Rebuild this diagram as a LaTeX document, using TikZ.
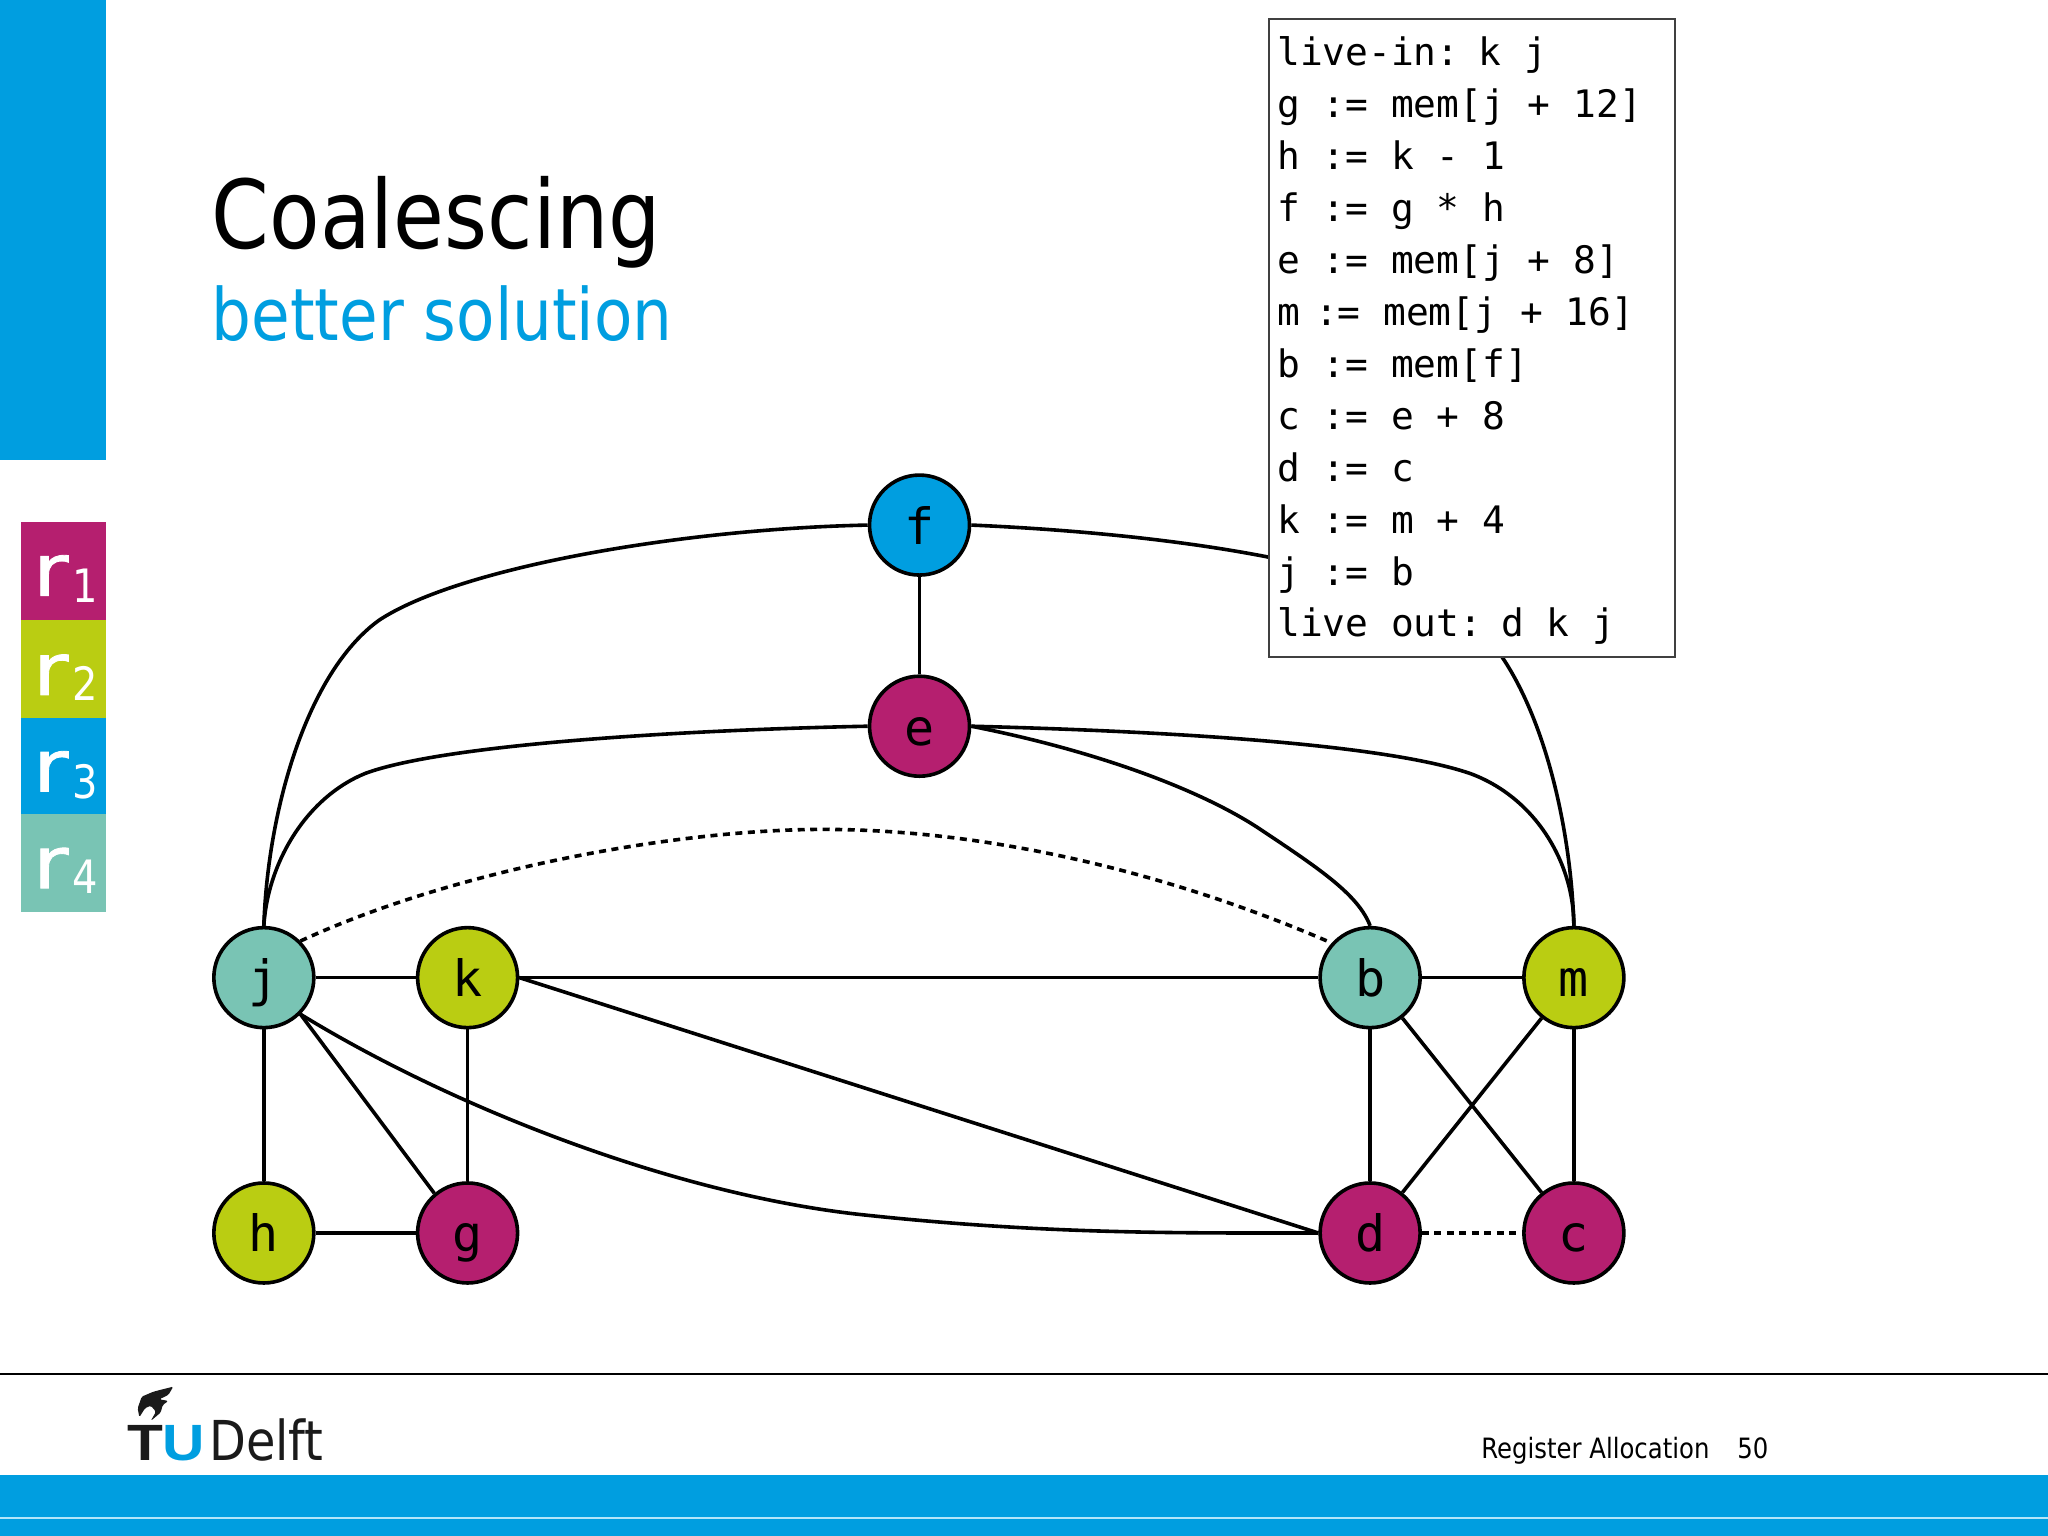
\documentclass[tikz,border=0pt]{standalone}
\usepackage{fontspec}
\setmainfont{DejaVu Sans}
\setmonofont{DejaVu Sans Mono}
\newfontfamily\tah[FakeStretch=0.87]{DejaVu Sans}
\newfontfamily\tahb[FakeStretch=1.2,FakeBold=1.2]{DejaVu Sans}
\newfontfamily\armb[FakeStretch=1.15]{Liberation Sans Bold}
\definecolor{tublue}{HTML}{009EE0}
\definecolor{rone}{HTML}{B51F6F}
\definecolor{rtwo}{HTML}{BACD12}
\definecolor{rfour}{HTML}{79C4B4}
\definecolor{tuink}{HTML}{1A1A1A}
\tikzset{
  reg/.style={circle,draw=black,line width=3.6pt,minimum size=100pt,inner sep=0pt,text height=38pt,text depth=0pt,font=\ttfamily\fontsize{50}{50}\selectfont},
  edge/.style={line width=3.6pt,black},
  dashedge/.style={line width=3.6pt,black,dash pattern=on 7pt off 5.5pt},
  swatch/.style={fill=#1,draw=none},
  rlab/.style={anchor=base west,inner sep=0pt,text=white,font=\tahb\fontsize{72}{72}\selectfont},
  rsub/.style={anchor=base west,inner sep=0pt,text=white,font=\tah\fontsize{46}{46}\selectfont},
  txt/.style={anchor=base west,inner sep=0pt}
}
\begin{document}
\begin{tikzpicture}[x=1.30612pt,y=-1.30612pt]
\useasboundingbox (0,0) rectangle (1568,1176);
% side bar and swatches
\fill[tublue] (0,0) rectangle (81,352);
\fill[swatch=rone] (16,400) rectangle (81,475);
\fill[swatch=rtwo] (16,475) rectangle (81,550);
\fill[swatch=tublue] (16,550) rectangle (81,623);
\fill[swatch=rfour] (16,623) rectangle (81,698);
\node[rlab] (r1) at (25,456) {r}; \node[rsub] (s1) at (55,461) {1};
\node[rlab] (r2) at (25,532) {r}; \node[rsub] (s2) at (55,536) {2};
\node[rlab] (r3) at (25,606) {r}; \node[rsub] (s3) at (55,611) {3};
\node[rlab] (r4) at (25,680) {r}; \node[rsub] (s4) at (55,684) {4};
% title
\node[txt,font=\tah\fontsize{95}{95}\selectfont] (title) at (162,190) {Coalescing};
\node[txt,font=\tah\fontsize{72.2}{72}\selectfont,text=tublue] (subtitle) at (162,261) {better solution};
% registers
\node[reg,fill=tublue] (f) at (704,402) {f};
\node[reg,fill=rone] (e) at (704,556) {e};
\node[reg,fill=rfour] (j) at (202,748.5) {j};
\node[reg,fill=rtwo] (k) at (358,748.5) {k};
\node[reg,fill=rfour] (b) at (1049,748.5) {b};
\node[reg,fill=rtwo] (m) at (1205,748.5) {m};
\node[reg,fill=rtwo] (h) at (202,944) {h};
\node[reg,fill=rone] (g) at (358,944) {g};
\node[reg,fill=rone] (d) at (1049,944) {d};
\node[reg,fill=rone] (c) at (1205,944) {c};
% curved edges
\draw[edge] (f.west) .. controls (520,405) and (350,435) .. (290,475) .. controls (235,515) and (205,620) .. (j.north);
\draw[edge] (e.west) .. controls (520,559) and (340,570) .. (280,592) .. controls (235,610) and (205,660) .. (j.north);
\draw[edge] (f.east) .. controls (880,408) and (1090,430) .. (1150,503) .. controls (1185,555) and (1203,640) .. (m.north);
\draw[edge] (e.east) .. controls (900,560) and (1060,570) .. (1125,592) .. controls (1175,610) and (1205,660) .. (m.north);
\draw[edge] (e.east) .. controls (840,575) and (920,605) .. (965,635) .. controls (1010,665) and (1040,685) .. (b.north);
\draw[dashedge] (j.45) .. controls (350,665) and (520,635) .. (630,635) .. controls (760,635) and (900,670) .. (b.138);
\draw[edge] (j.-45) .. controls (350,850) and (520,915) .. (660,930) .. controls (800,945) and (900,944) .. (d.west);
% straight edges
\draw[edge] (f) -- (e);
\draw[edge] (j) -- (k);
\draw[edge] (k) -- (b);
\draw[edge] (b) -- (m);
\draw[edge] (j) -- (h);
\draw[edge] (k) -- (g);
\draw[edge] (j.-45) -- (g.130);
\draw[edge] (h) -- (g);
\draw[edge] (k.east) -- (d.west);
\draw[edge] (b) -- (d);
\draw[edge] (m) -- (c);
\draw[edge] (b) -- (c);
\draw[edge] (m) -- (d);
\draw[dashedge] (d) -- (c);
% code box
\node[draw=black!75,line width=2pt,fill=white,anchor=north west,minimum width=406pt,minimum height=637.5pt,text width=390pt,inner sep=0pt,align=left,
  font=\ttfamily\fontsize{37.85}{51.98}\selectfont] (code) at (971,14) {%
\spaceskip=22.8pt\relax
\rule{0pt}{34pt}live-in: k j\\
g := mem[j + 12]\\
h := k - 1\\
f := g * h\\
e := mem[j + 8]\\
m\hspace{15pt}:= mem[j + 16]\\
b := mem[f]\\
c := e + 8\\
d := c\\
k := m + 4\\
j := b\\
live out: d k j};
% footer
\draw[line width=2.2pt,black] (0,1052) -- (1568,1052);
\fill[tublue] (0,1129) rectangle (1568,1176);
\draw[line width=2pt,white!70!cyan] (0,1162) -- (1568,1162);
\node[txt,font=\tah\fontsize{28}{28}\selectfont] (footer) at (1134,1117) {Register Allocation};
\node[txt,font=\tah\fontsize{28}{28}\selectfont] (page) at (1330,1117) {50};
% logo
\fill[tuink,rounded corners=1.5pt] (132.7,1061.6) -- (128.9,1068) -- (122,1071.3) -- (128.9,1072.6) -- (124.6,1075.7) -- (123,1081.5) -- (115.4,1087.9) -- (119.4,1080.8) -- (115.4,1076.2) -- (111,1078.2) -- (106.7,1085.1) -- (105.4,1078.2) -- (108.5,1069.3) -- (117.4,1065.5) -- cycle;
\node[txt,font=\armb\fontsize{51}{51}\selectfont,text=tuink] (tuT) at (97.5,1118) {T};
\node[txt,font=\armb\fontsize{51}{51}\selectfont,text=tublue] (tuU) at (124.5,1118) {U};
\node[txt,font=\tah\fontsize{55}{55}\selectfont,text=tuink] (delft) at (160,1118) {Delft};
\end{tikzpicture}
\end{document}
